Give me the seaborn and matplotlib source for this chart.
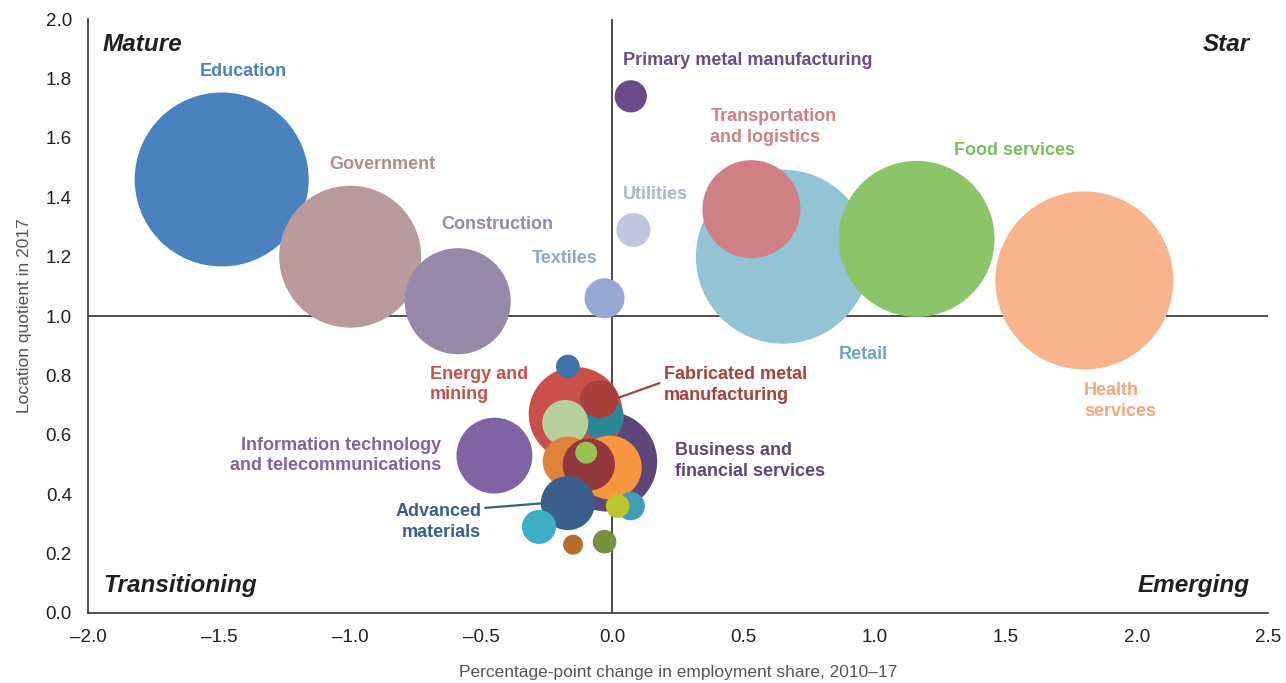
import pandas as pd
import matplotlib
matplotlib.use("Agg")
import matplotlib.pyplot as plt
import matplotlib.ticker as mticker
import seaborn as sns

# Data; employment is a relative bubble size
industries = [
    "Health services", "Education", "Retail", "Transportation and logistics",
    "Food services", "Government", "Construction",
    "Information technology and telecommunications", "Textiles", "Utilities",
    "Primary metal manufacturing", "Business and financial services",
    "Energy and mining", "Other 1", "Fabricated metal manufacturing", "Other 2",
    "Other 3", "Other 4", "Other 5", "Other 6", "Advanced materials",
    "Other 7", "Other 8", "Other 9", "Other 10", "Other 11", "Other 12",
]
pp_change = [
    1.80, -1.49, 0.65, 0.53,
    1.16, -1.00, -0.59,
    -0.45, -0.03, 0.08,
    0.07, -0.02,
    -0.14, -0.04, -0.05, -0.18,
    -0.17, -0.01, -0.09, -0.10, -0.17,
    -0.28, 0.07, 0.02, -0.15, -0.03, -0.17,
]
loc_quotient = [
    1.12, 1.46, 1.20, 1.36,
    1.26, 1.20, 1.05,
    0.53, 1.06, 1.29,
    1.74, 0.51,
    0.67, 0.66, 0.72, 0.64,
    0.51, 0.49, 0.50, 0.54, 0.37,
    0.29, 0.36, 0.36, 0.23, 0.24, 0.83,
]
employment = [
    79.2, 75.7, 75.7, 24.0,
    60.8, 50.4, 28.1,
    14.4, 4.0, 2.9,
    2.6, 25.0,
    22.1, 4.8, 3.6, 5.3,
    6.3, 10.2, 6.8, 1.2, 7.3,
    2.9, 2.0, 1.4, 1.0, 1.4, 1.4,
]

colors = [
    "#F8B48C", "#4A82C0", "#92C4D6", "#CF8084",
    "#8CC46A", "#B99A9A", "#9787A9",
    "#7F63A2", "#95A9D2", "#BFC8E0",
    "#6B4C8A", "#5E4678",
    "#C9504A", "#2E8595", "#A9403C", "#B7CF9B",
    "#E0833A", "#F7963F", "#93373A", "#98C057", "#3A5F8D",
    "#3EAEC7", "#3E9EB5", "#BCC52E", "#B5702F", "#77903E", "#3F72A8",
]
palette = dict(zip(industries, colors))

df = pd.DataFrame({
    "industry": industries,
    "change": pp_change,
    "lq": loc_quotient,
    "employment": employment,
})

sns.set_theme(style="white")
plt.rcParams["font.family"] = ["Liberation Sans", "DejaVu Sans"]

fig = plt.figure(figsize=(12.86, 6.83), dpi=100)
ax = fig.add_axes([0.0684, 0.1025, 0.9176, 0.8695])

# marker area: s = (2 * r_px * 0.72)^2, employment = r_px^2 / 100
emp_max = max(employment)
sns.scatterplot(data=df, x="change", y="lq", hue="industry", palette=palette,
                size="employment", sizes=(0, 207.36 * emp_max),
                size_norm=(0, emp_max), linewidth=0, alpha=1,
                legend=False, ax=ax, zorder=3)

ax.axvline(0, color="#4D4D4D", lw=1.4, zorder=1)
ax.axhline(1, color="#4D4D4D", lw=1.4, zorder=1)

ax.set_xlim(-2.0, 2.5)
ax.set_ylim(0.0, 2.0)
ax.set_xticks([-2.0, -1.5, -1.0, -0.5, 0.0, 0.5, 1.0, 1.5, 2.0, 2.5])
ax.set_yticks([0.0, 0.2, 0.4, 0.6, 0.8, 1.0, 1.2, 1.4, 1.6, 1.8, 2.0])
fmt = mticker.FuncFormatter(lambda v, p: f"{v:.1f}".replace("-", "\u2013"))
ax.xaxis.set_major_formatter(fmt)
ax.yaxis.set_major_formatter(fmt)

for side in ["top", "right"]:
    ax.spines[side].set_visible(False)
for side in ["left", "bottom"]:
    ax.spines[side].set_color("#333333")
    ax.spines[side].set_linewidth(1.2)
ax.tick_params(axis="both", direction="out", length=6.5, width=1.2,
               color="#333333", labelsize=13.5, labelcolor="#231F20", pad=5)

ax.set_xlabel("Percentage-point change in employment share, 2010\u201317",
              fontsize=12.5, color="#555555", labelpad=14)
ax.set_ylabel("Location quotient in 2017", fontsize=12.5, color="#555555",
              labelpad=10)

# bubble labels
lab = dict(fontsize=13, fontweight="bold", linespacing=1.27, zorder=5)
ax.text(-1.408, 1.825, "Education", color="#4A82C0", ha="center", va="center", **lab)
ax.text(-0.878, 1.512, "Government", color="#B08C8C", ha="center", va="center", **lab)
ax.text(-0.439, 1.310, "Construction", color="#9787A9", ha="center", va="center", **lab)
ax.text(-0.183, 1.195, "Textiles", color="#8FA6D0", ha="center", va="center", **lab)
ax.text(0.164, 1.411, "Utilities", color="#A9B6D6", ha="center", va="center", **lab)
ax.text(0.042, 1.862, "Primary metal manufacturing", color="#6B4C8A", ha="left", va="center", **lab)
ax.text(0.374, 1.636, "Transportation\nand logistics", color="#CF8084", ha="left", va="center", **lab)
ax.text(1.534, 1.556, "Food services", color="#7DBE58", ha="center", va="center", **lab)
ax.text(0.958, 0.872, "Retail", color="#6FA5BA", ha="center", va="center", **lab)
ax.text(1.798, 0.714, "Health\nservices", color="#F5A67A", ha="left", va="center", **lab)
ax.text(-0.695, 0.769, "Energy and\nmining", color="#C9504A", ha="left", va="center", **lab)
ax.text(0.195, 0.768, "Fabricated metal\nmanufacturing", color="#A9403C", ha="left", va="center", **lab)
ax.text(-0.653, 0.530, "Information technology\nand telecommunications", color="#7F63A2",
        ha="right", va="center", multialignment="right", **lab)
ax.text(0.237, 0.512, "Business and\nfinancial services", color="#5E4678", ha="left", va="center", **lab)
ax.text(-0.50, 0.306, "Advanced\nmaterials", color="#3A5F8D", ha="right", va="center",
        multialignment="right", **lab)

ax.plot([-0.034, 0.179], [0.707, 0.774], color="#A9403C", lw=1.6, zorder=4)
ax.plot([-0.485, -0.202], [0.354, 0.374], color="#3A5F8D", lw=1.6, zorder=4)

# quadrant names
quad = dict(fontsize=17.5, fontweight="bold", fontstyle="italic", color="#231F20",
            va="center", zorder=5)
ax.text(-1.943, 1.916, "Mature", ha="left", **quad)
ax.text(2.431, 1.916, "Star", ha="right", **quad)
ax.text(-1.943, 0.094, "Transitioning", ha="left", **quad)
ax.text(2.431, 0.094, "Emerging", ha="right", **quad)

fig.savefig("out.png", dpi=100)
